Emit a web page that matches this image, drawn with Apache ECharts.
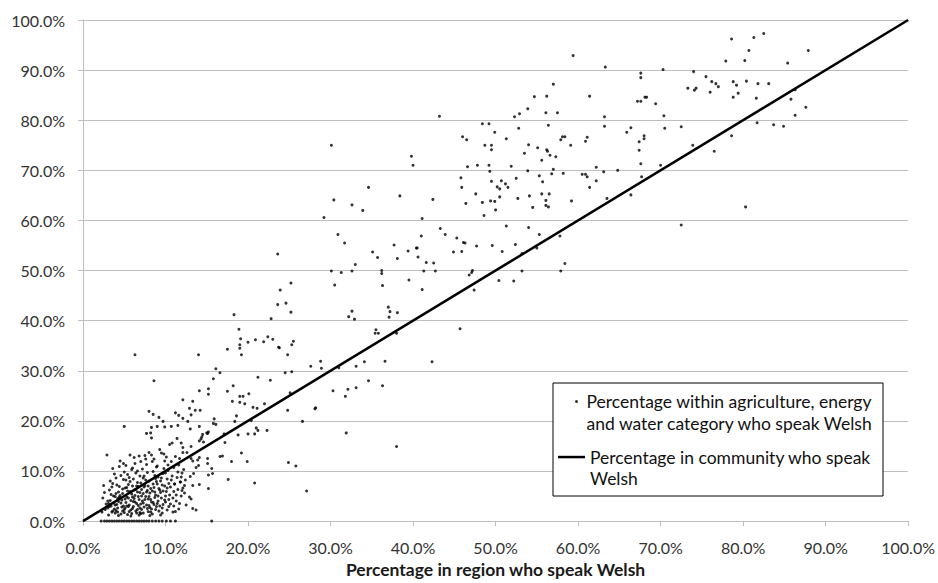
<!DOCTYPE html>
<html>
<head>
<meta charset="utf-8">
<script src="https://cdn.jsdelivr.net/npm/echarts@6/dist/echarts.min.js"></script>
<style>
html,body{margin:0;padding:0;background:#fff;}
#chart{width:938px;height:583px;}
</style>
</head>
<body>
<div id="chart"></div>
<script>
// Axis ticks (percent)
const tickValues = [0, 10, 20, 30, 40, 50, 60, 70, 80, 90, 100];

// Community line: percentage in community who speak Welsh (x = y)
const communityLineX = [0, 100];
const communityLineY = [0, 100];

// Scatter points: [percentage in region, percentage within agriculture/energy/water]
const pointsHigh = [
[63.3,90.6],[67.6,89.4],[67.6,88.5],[70.3,90.1],[74.0,89.7],[78.6,96.2],[81.3,96.5],[82.5,97.3],[80.7,93.9],[77.9,91.8],
[80.2,91.9],[87.9,93.9],[85.4,91.4],[75.5,88.7],[76.2,87.7],[76.7,87.3],[77.0,86.7],[76.0,85.6],[73.3,86.4],[74.1,86.0],
[74.3,86.4],[78.8,87.7],[79.2,87.0],[80.4,87.8],[79.4,85.4],[78.8,84.6],[81.8,87.3],[83.1,87.3],[81.6,84.4],[86.3,86.1],
[85.8,84.2],[86.3,81.0],[87.6,82.6],[81.7,79.5],[83.7,79.1],[84.9,78.8],[78.6,76.9],[76.5,73.8],[80.3,62.7],[67.6,83.8],
[67.2,83.8],[68.1,84.6],[68.3,84.6],[69.4,83.3],[70.4,80.9],[70.5,78.4],[72.5,78.7],[73.9,75.0],[63.2,80.7],[63.2,78.8],
[65.9,77.6],[66.4,78.5],[68.0,76.9],[68.0,76.3],[67.4,75.7],[67.4,74.0],[67.6,71.3],[70.0,71.0],[67.7,68.7],[63.1,69.7],
[64.8,70.0],[63.5,64.4],[66.4,65.1],[72.5,59.1]
];

const pointsUpperMid = [
[43.2,80.8],[54.7,84.7],[56.2,84.8],[61.4,84.8],[57.0,87.2],[53.9,82.3],[52.9,81.3],[52.3,80.7],[56.1,81.5],[57.5,81.5],
[56.4,79.0],[52.8,78.4],[48.4,79.3],[49.2,79.3],[49.9,77.6],[46.0,76.7],[46.5,76.1],[51.3,76.3],[58.1,76.7],[58.4,76.7],
[57.9,76.1],[61.1,76.6],[60.9,75.8],[59.1,75.0],[48.7,75.0],[49.5,75.0],[49.5,74.1],[54.0,75.1],[55.1,74.5],[56.2,74.1],
[56.3,73.8],[53.5,73.4],[56.6,73.0],[57.3,72.7],[55.6,72.0],[46.6,70.7],[47.8,71.0],[49.2,71.0],[51.9,70.8],[49.3,69.8],
[53.9,69.9],[57.0,70.2],[56.8,69.3],[58.2,69.4],[60.5,69.2],[60.9,69.2],[61.1,68.7],[62.2,70.6],[45.8,68.5],[45.9,66.6],
[49.5,67.8],[50.7,67.9],[51.2,67.3],[51.5,66.6],[50.2,66.7],[50.5,66.3],[52.5,68.4],[55.3,68.9],[55.7,67.7],[61.4,66.6],
[62.2,67.9],[47.6,65.3],[52.7,64.4],[54.1,64.9],[55.6,65.3],[56.5,65.3],[50.5,64.7],[46.4,63.4],[48.4,63.6],[49.4,63.9],
[49.9,63.8],[50.0,62.1],[54.5,62.6],[56.1,64.0],[56.1,63.0],[56.4,62.7],[59.2,63.9],[48.6,61.0],[42.4,64.2],[41.1,60.4],
[51.3,58.9],[54.0,58.6],[43.3,58.4],[43.9,57.2],[41.0,56.9],[45.3,56.5],[46.1,55.6],[46.3,55.5],[47.7,54.9],[49.6,55.0],
[52.4,55.2],[55.3,57.2],[57.8,56.9],[44.9,53.7],[45.9,53.8],[50.8,53.8],[53.2,53.4],[55.0,54.5],[41.6,51.6],[42.5,51.5],
[58.4,51.4],[41.3,49.9],[42.7,49.9],[47.2,50.0],[47.1,49.6],[46.8,49.1],[53.2,49.9],[57.9,49.9],[50.4,48.0],[52.2,47.9],
[41.1,46.2],[47.4,46.1],[45.7,38.4],[59.4,92.9]
];

const pointsMid = [
[30.1,75.0],[39.8,72.8],[40.0,71.0],[34.6,66.6],[30.4,64.1],[32.6,63.1],[33.9,62.0],[38.4,64.9],[29.2,60.6],[30.9,57.2],
[31.7,55.5],[37.7,55.1],[35.1,53.7],[35.7,52.6],[39.4,53.9],[40.4,54.5],[40.5,54.5],[40.6,52.7],[38.1,52.4],[33.0,51.2],
[30.1,49.9],[31.3,49.6],[32.6,49.9],[36.2,50.0],[36.2,49.4],[39.5,48.1],[23.9,46.1],[25.2,47.5],[30.5,47.1],[36.3,47.0],
[24.6,43.5],[25.2,41.7],[32.6,41.9],[32.2,40.8],[32.9,40.3],[37.0,42.7],[37.2,41.8],[37.1,40.7],[38.1,41.6],[35.5,38.2],
[35.4,37.5],[35.8,37.5],[38.0,37.5],[25.5,35.9],[25.3,35.2],[23.8,34.6],[24.8,33.2],[27.6,30.9],[28.8,31.9],[28.9,30.5],
[24.5,29.6],[25.3,29.8],[31.0,30.6],[33.1,30.9],[34.1,31.8],[36.6,31.9],[42.3,31.8],[34.6,28.0],[30.3,26.0],[32.1,26.3],
[33.1,26.6],[36.3,27.0],[31.8,24.9],[25.1,25.6],[28.2,22.6],[38.0,14.9],[27.1,6.0]
];

const pointsLowMid = [
[23.6,53.3],[23.6,43.2],[22.8,40.4],[18.3,41.2],[18.9,38.3],[19.1,36.4],[19.0,35.2],[19.0,34.5],[19.2,33.2],[20.0,35.7],
[20.9,36.2],[21.9,35.8],[22.4,36.8],[23.0,36.3],[23.7,34.7],[17.5,34.3],[14.0,33.2],[16.1,30.4],[16.6,29.6],[15.8,28.4],
[21.2,28.7],[22.7,28.1],[18.2,27.0],[17.5,25.9],[15.2,26.4],[15.2,25.3],[14.1,26.0],[19.0,24.9],[19.4,24.9],[20.1,25.4],
[18.1,23.9],[19.0,23.7],[19.6,23.4],[20.6,22.7],[21.1,22.5],[22.0,23.4],[24.8,22.1],[12.9,22.5],[13.1,21.2],[13.6,22.1],
[14.2,22.1],[13.3,23.9],[18.6,21.0],[18.4,19.9],[20.4,20.1],[21.0,18.6],[21.2,18.1],[22.3,18.1],[26.6,19.9],[28.1,22.4],
[31.9,17.6],[15.9,20.4],[16.1,19.3],[15.8,19.5],[17.1,17.4],[15.1,17.5],[14.1,18.9],[13.0,18.4],[14.4,16.8],[14.1,16.0],
[14.6,15.8],[17.2,15.7],[16.6,12.9],[16.9,13.0],[18.0,11.9],[19.2,13.6],[19.9,11.9],[18.8,17.2],[20.0,17.4],[20.8,17.4],
[15.1,12.5],[15.1,11.5],[15.6,10.5],[15.7,9.5],[15.2,9.2],[14.0,11.1],[13.7,10.7],[13.1,12.5],[13.3,12.0],[13.1,14.9],
[24.9,11.7],[25.8,11.0],[13.0,8.9],[13.4,9.5],[6.3,33.2],[8.6,28.0],[12.1,24.2],[8.0,21.9],[8.5,21.3],[9.2,20.7],
[9.7,19.9],[11.2,21.6],[11.6,21.1],[12.1,20.5],[12.7,19.9],[10.7,18.9],[9.9,18.8],[8.3,18.7],[5.0,18.9],[8.2,17.6],
[8.3,16.6],[7.7,17.5],[11.5,19.1],[9.0,18.9],[15.2,17.8],[14.5,17.3],[15.0,17.6],[14.3,16.4],[20.8,7.6],[17.6,8.3],
[14.1,12.7],[13.9,12.2],[14.1,7.3],[15.2,6.5],[13.3,7.1],[12.9,4.8],[13.1,4.4],[13.3,2.5],[13.7,2.2],[11.9,5.0],
[12.1,6.6],[12.3,7.1],[11.8,7.8],[11.1,7.4]
];

const pointsCluster = [
[2.5,7.1],[2.6,5.7],[2.9,13.2],[2.3,1.8],[2.8,3.4],[2.4,4.6],[3.0,2.6],
[3.1,1.2],[3.2,2.9],[3.3,4.1],[3.4,5.3],[3.5,6.8],[3.6,2.0],[3.7,3.6],[3.8,9.4],[3.9,4.9],[3.3,8.0],[3.6,7.5],[3.9,1.6],[3.4,3.0],[3.8,2.4],
[4.0,2.1],[4.1,3.3],[4.2,4.5],[4.3,5.8],[4.4,10.9],[4.5,12.0],[4.6,1.4],[4.7,2.8],[4.8,6.4],[4.9,8.3],[4.1,7.2],[4.3,3.9],[4.5,5.1],[4.7,4.2],
[4.9,3.0],[4.2,1.8],[4.6,9.1],[4.8,2.0],[4.4,6.9],[4.0,5.5],
[5.0,1.7],[5.1,2.6],[5.2,3.7],[5.3,4.8],[5.4,6.0],[5.5,7.3],[5.6,8.7],[5.7,13.2],[5.8,2.2],[5.9,5.4],[5.0,9.8],[5.2,11.1],[5.4,1.3],[5.6,3.2],
[5.8,4.1],[5.3,6.7],[5.7,7.9],[5.9,10.3],[5.1,4.4],[5.5,2.9],[5.9,1.5],[5.2,8.2],
[6.0,2.5],[6.1,3.9],[6.2,12.7],[6.3,5.1],[6.4,6.3],[6.5,1.6],[6.6,7.7],[6.7,3.1],[6.8,13.0],[6.9,9.0],[6.0,10.6],[6.2,4.5],[6.4,2.0],[6.6,5.8],
[6.8,4.3],[6.1,8.4],[6.3,11.5],[6.5,3.5],[6.7,6.9],[6.9,2.6],[6.0,7.0],[6.4,9.6],[6.8,1.2],[6.2,6.2],
[7.0,11.9],[7.1,2.3],[7.2,4.0],[7.3,5.5],[7.4,6.8],[7.5,13.1],[7.6,8.2],[7.7,3.2],[7.8,9.7],[7.9,1.9],[7.0,7.6],[7.2,10.4],[7.4,2.8],[7.6,4.9],
[7.8,6.1],[7.1,5.0],[7.3,3.6],[7.5,7.1],[7.7,11.3],[7.9,4.4],[7.0,1.5],[7.4,9.0],[7.8,2.5],[7.6,12.4],
[8.0,13.7],[8.1,2.7],[8.2,4.3],[8.3,13.2],[8.4,6.0],[8.5,7.4],[8.6,3.3],[8.7,9.1],[8.8,5.2],[8.9,10.8],[8.0,8.0],[8.2,1.8],[8.4,11.9],[8.6,6.7],
[8.8,2.3],[8.1,5.6],[8.3,3.8],[8.5,9.9],[8.7,4.7],[8.9,7.9],[8.0,3.1],[8.6,12.4],[8.4,1.4],
[9.0,3.5],[9.1,5.0],[9.2,6.5],[9.3,14.3],[9.4,8.0],[9.5,13.6],[9.6,2.6],[9.7,9.5],[9.8,13.4],[9.9,4.2],[9.0,11.0],[9.2,2.0],[9.4,5.7],[9.6,7.2],
[9.8,10.5],[9.1,8.8],[9.3,3.0],[9.5,4.6],[9.7,6.0],[9.9,12.0],[9.0,7.4],[9.6,1.6],
[10.0,3.8],[10.1,5.9],[10.2,8.4],[10.3,11.2],[10.4,2.9],[10.5,15.3],[10.6,6.8],[10.7,11.9],[10.8,15.6],[10.9,4.6],[10.0,9.6],[10.2,2.2],[10.4,7.5],
[10.6,3.4],[10.8,9.0],[10.1,12.8],[10.5,5.2],[10.9,1.8],[10.3,10.1],
[11.0,3.0],[11.1,7.4],[11.2,12.9],[11.3,5.2],[11.4,16.5],[11.5,9.8],[11.6,2.4],[11.7,12.5],[11.8,7.8],[11.9,15.6],[11.0,10.7],[11.3,4.0],[11.5,6.3],
[11.7,3.5],[11.9,8.8],[11.2,1.9],[11.6,11.2],
[12.1,14.7],[12.1,13.7],[12.6,13.7],[12.3,5.6],[12.5,3.2],[12.2,10.3],[12.4,8.2],[12.0,6.1]
];

const pointsClusterCore = [
[3.0,4.0],[3.2,6.2],[3.5,1.8],[3.7,5.0],[3.9,3.2],[4.0,8.6],[4.2,2.6],[4.4,4.8],[4.6,3.6],[4.8,5.5],
[5.0,2.3],[5.1,6.6],[5.3,3.0],[5.5,4.6],[5.7,5.9],[5.8,1.0],[6.0,4.8],[6.1,2.9],[6.3,3.8],[6.5,7.0],
[6.6,2.3],[6.7,4.9],[6.9,5.7],[7.0,3.4],[7.1,6.3],[7.3,1.6],[7.5,4.3],[7.7,5.8],[7.9,7.0],[8.0,4.9],
[8.2,6.5],[8.3,2.4],[8.5,3.7],[8.7,5.8],[8.9,2.9],[9.1,4.0],[9.3,6.2],[9.5,8.6],[9.7,3.3],[9.9,7.0],
[10.0,5.0],[10.2,6.6],[10.4,4.3],[10.7,8.2],[11.0,5.9],[11.4,8.7],[12.0,9.6],[4.3,1.1],[5.6,1.9],[6.9,1.7],
[8.1,1.1],[9.4,1.2],[3.1,3.5],[2.7,2.3],[5.4,9.3],[6.6,10.0],[7.3,8.6],[8.8,8.5],[4.9,11.5],[3.6,10.5]
];

const pointsZero = [
[2.2,0],[2.6,0],[2.9,0],[3.2,0],[3.5,0],[3.8,0],[4.1,0],[4.4,0],[4.7,0],[5.0,0],[5.3,0],[5.6,0],[5.9,0],[6.2,0],
[6.5,0],[6.8,0],[7.1,0],[7.4,0],[7.7,0],[8.0,0],[8.4,0],[8.8,0],[9.2,0],[9.6,0],[10.1,0],[10.6,0],[11.2,0],[15.6,0]
];

const scatterName = 'Percentage within agriculture, energy\nand water category who speak Welsh';
const lineName = 'Percentage in community who speak\nWelsh';
const xTitle = 'Percentage in region who speak Welsh';

const allPoints = [].concat(pointsHigh, pointsUpperMid, pointsMid, pointsLowMid, pointsCluster, pointsClusterCore, pointsZero);
const lineData = communityLineX.map((x, i) => [x, communityLineY[i]]);

const chart = echarts.init(document.getElementById('chart'), null, {renderer: 'svg'});
const FONT = 'Lato, "DejaVu Sans", sans-serif';
const pctFmt = v => v.toFixed(1) + '%';

const axisCommon = {
  type: 'value', min: 0, max: 100, interval: 10,
  axisLine: {show: true, lineStyle: {color: '#bfbfbf', width: 1}},
  axisTick: {show: true, length: 5, lineStyle: {color: '#bfbfbf'}},
  axisLabel: {formatter: pctFmt, color: '#333333', fontFamily: FONT, fontSize: 16}
};

chart.setOption({
  animation: false,
  backgroundColor: '#fff',
  grid: {left: 83, right: 28, top: 20, bottom: 60},
  xAxis: Object.assign({}, axisCommon, {
    splitLine: {show: false},
    axisLabel: Object.assign({}, axisCommon.axisLabel, {margin: 18}),
    name: xTitle, nameLocation: 'middle', nameGap: 35,
    nameTextStyle: {fontFamily: FONT, fontSize: 17.5, fontWeight: 'bold', color: '#1a1a1a'}
  }),
  yAxis: Object.assign({}, axisCommon, {
    splitLine: {show: true, lineStyle: {color: '#bfbfbf', width: 1}},
    axisLabel: Object.assign({}, axisCommon.axisLabel, {margin: 18})
  }),
  legend: [
    {
      data: [{name: scatterName, icon: 'circle'}],
      left: 575, top: 369, padding: 0,
      itemWidth: 10, itemHeight: 3,
      formatter: n => '\n' + n,
      textStyle: {fontFamily: FONT, fontSize: 17.5, color: '#111', lineHeight: 21.7},
      z: 10
    },
    {
      data: [{name: lineName, icon: 'rect'}],
      left: 558, top: 424.5, padding: 0,
      itemWidth: 27, itemHeight: 2.5,
      formatter: n => '\n' + n,
      textStyle: {fontFamily: FONT, fontSize: 17.5, color: '#111', lineHeight: 21.7},
      z: 10
    }
  ],
  graphic: [{
    type: 'rect', z: 5,
    shape: {x: 553, y: 383, width: 330, height: 113},
    style: {fill: '#fff', stroke: '#000', lineWidth: 1}
  }],
  series: [
    {
      name: scatterName, type: 'scatter', data: allPoints,
      symbol: 'circle', symbolSize: 3,
      itemStyle: {color: '#000'}, z: 2
    },
    {
      name: lineName, type: 'line', data: lineData,
      showSymbol: false, symbol: 'none',
      lineStyle: {color: '#000', width: 2.5},
      itemStyle: {color: '#000'}, z: 3
    }
  ]
});
</script>
</body>
</html>
